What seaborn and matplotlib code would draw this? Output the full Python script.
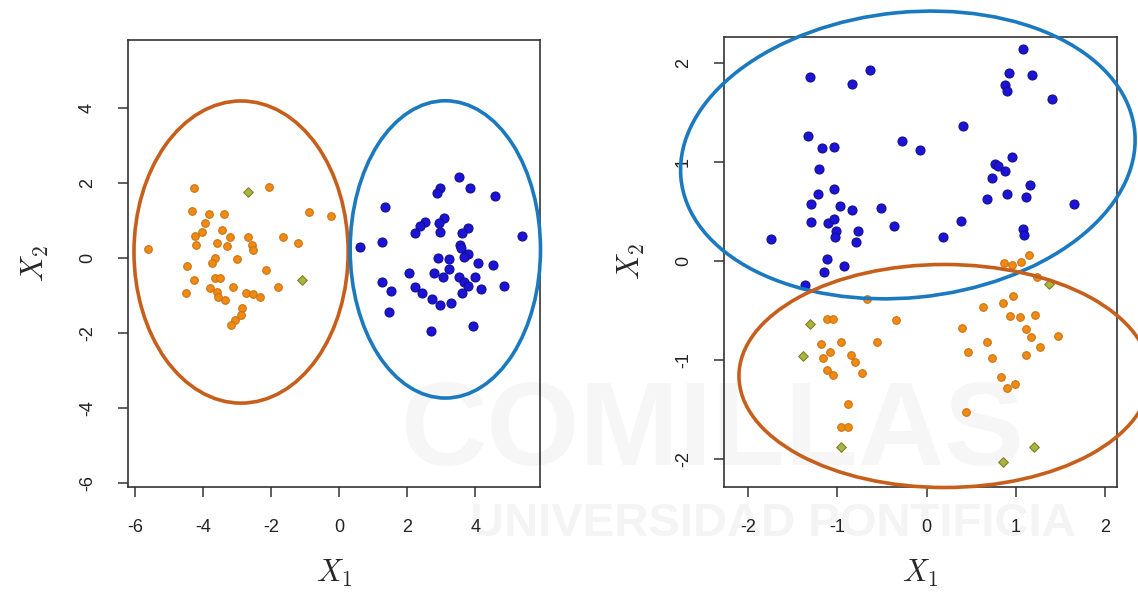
import seaborn as sns
import matplotlib.pyplot as plt
import pandas as pd
from matplotlib.patches import Ellipse

# left panel: two well separated clusters
left_orange_x = [-4.26, -2.06, -4.33, -3.81, -3.37, -0.87, -0.24, -3.94, -4.04, -3.43,
                 -4.24, -3.21, -2.67, -1.64, -4.21, -3.60, -3.30, -2.57, -1.20, -5.61,
                 -2.54, -3.65, -2.99, -3.74, -4.46, -2.16, -4.26, -3.65, -3.50, -4.50,
                 -3.79, -3.60, -3.13, -1.79, -2.74, -2.52, -2.32, -3.55, -3.35, -2.86,
                 -2.89, -3.06, -3.19]
left_orange_y = [1.86, 1.90, 1.26, 1.17, 1.17, 1.24, 1.12, 0.94, 0.70, 0.75,
                 0.59, 0.57, 0.55, 0.57, 0.35, 0.39, 0.32, 0.35, 0.39, 0.23,
                 0.21, 0.00, -0.02, -0.14, -0.21, -0.32, -0.59, -0.54, -0.54, -0.92,
                 -0.81, -0.90, -0.76, -0.76, -0.92, -0.96, -1.05, -1.03, -1.12, -1.34,
                 -1.52, -1.64, -1.79]
left_green_x = [-2.69, -1.10]
left_green_y = [1.77, -0.59]
left_blue_x = [3.51, 2.97, 2.87, 3.85, 4.59, 1.35, 3.09, 2.92, 2.53, 2.38,
               2.24, 2.95, 3.80, 3.61, 5.37, 1.25, 0.60, 3.56, 3.58, 3.80,
               3.66, 2.89, 3.24, 4.08, 4.51, 3.24, 2.06, 2.80, 3.05, 3.51,
               3.98, 3.66, 3.80, 1.25, 4.83, 4.18, 2.24, 2.43, 1.53, 3.61,
               2.73, 2.95, 3.29, 1.48, 2.71, 3.93]
left_blue_y = [2.15, 1.86, 1.72, 1.86, 1.64, 1.35, 1.06, 0.94, 0.97, 0.85,
               0.66, 0.70, 0.79, 0.66, 0.60, 0.44, 0.29, 0.35, 0.26, 0.11,
               0.02, -0.01, -0.03, -0.14, -0.19, -0.30, -0.41, -0.41, -0.50, -0.50,
               -0.50, -0.63, -0.75, -0.63, -0.74, -0.82, -0.78, -0.92, -0.88, -0.92,
               -1.10, -1.24, -1.21, -1.44, -1.95, -1.81]

# right panel: overlapping clusters
right_blue_x = [1.08, -1.31, -0.63, -0.83, 0.92, 1.18, 0.88, 0.90, 1.40, 0.41,
                -1.33, -1.17, -1.04, -0.28, -0.07, 0.95, 0.77, 0.80, 0.88, -1.20,
                0.73, -1.04, 1.16, -1.22, 0.90, 1.11, 0.68, -1.29, -0.97, -0.83,
                -0.51, 1.65, -1.29, -1.10, -1.04, -1.01, -1.03, -0.77, -0.79, -0.36,
                0.38, 0.18, -1.74, 1.08, 1.09, -1.11, -0.92, -1.15, -1.36]
right_blue_y = [2.14, 1.86, 1.93, 1.79, 1.90, 1.88, 1.78, 1.72, 1.63, 1.36,
                1.26, 1.14, 1.15, 1.21, 1.12, 1.05, 0.98, 0.96, 0.91, 0.93,
                0.84, 0.73, 0.77, 0.68, 0.68, 0.65, 0.63, 0.58, 0.56, 0.51,
                0.53, 0.58, 0.39, 0.38, 0.42, 0.30, 0.24, 0.30, 0.19, 0.35,
                0.40, 0.24, 0.22, 0.32, 0.26, 0.02, -0.05, -0.11, -0.24]
right_orange_x = [1.15, 0.87, 0.96, 1.06, 1.23, -0.67, 0.97, 0.85, 0.63, 0.93,
                  1.05, 1.21, -1.12, -1.05, -0.34, 0.40, 1.11, 1.17, 1.47, -1.18,
                  -0.96, -0.56, 0.68, 1.27, -1.16, -1.08, -0.85, -0.80, 0.46, 0.73,
                  1.11, -1.12, -1.05, -0.72, 0.83, 0.90, 0.99, -0.88, 0.44, -0.96,
                  -0.88]
right_orange_y = [0.06, -0.02, -0.04, -0.01, -0.16, -0.38, -0.35, -0.42, -0.46, -0.55,
                  -0.56, -0.54, -0.58, -0.59, -0.60, -0.68, -0.69, -0.77, -0.76, -0.84,
                  -0.82, -0.82, -0.82, -0.87, -0.98, -0.92, -0.95, -1.02, -0.92, -0.98,
                  -0.95, -1.10, -1.15, -1.13, -1.17, -1.28, -1.24, -1.44, -1.52, -1.67,
                  -1.67]
right_green_x = [1.37, -1.31, -1.38, -0.96, 1.20, 0.85]
right_green_y = [-0.23, -0.64, -0.96, -1.88, -1.88, -2.03]

left_ticks_x = [-6, -4, -2, 0, 2, 4]
left_ticks_y = [-6, -4, -2, 0, 2, 4]
right_ticks = [-2, -1, 0, 1, 2]


def make_df(groups):
    frames = []
    for name, xs, ys in groups:
        frames.append(pd.DataFrame({'x1': xs, 'x2': ys, 'grupo': name}))
    return pd.concat(frames, ignore_index=True)


left = make_df([('orange', left_orange_x, left_orange_y),
                ('green', left_green_x, left_green_y),
                ('blue', left_blue_x, left_blue_y)])
right = make_df([('blue', right_blue_x, right_blue_y),
                 ('orange', right_orange_x, right_orange_y),
                 ('green', right_green_x, right_green_y)])

palette = {'orange': '#f28a10', 'green': '#a4b83a', 'blue': '#1c12d8'}
edges = {'orange': '#c87418', 'green': '#8a7a30', 'blue': '#10108a'}
sizes = {'orange': 30, 'green': 24, 'blue': 42}

sns.set_style('white')
plt.rcParams['mathtext.fontset'] = 'cm'
plt.rcParams['axes.unicode_minus'] = False
plt.rcParams['font.family'] = ['Liberation Sans Narrow', 'Liberation Sans', 'DejaVu Sans']

fig = plt.figure(figsize=(11.38, 5.95), dpi=100)
ax1 = fig.add_axes([0.1125, 0.1815, 0.362, 0.7513])
ax2 = fig.add_axes([0.636, 0.1815, 0.3455, 0.7563])

# faint watermark behind the (transparent) axes
fig.text(0.352, 0.269, 'COMILLAS', fontsize=86, fontweight='bold', color='#f6f6f6',
         family=['Liberation Sans', 'DejaVu Sans'], zorder=-5, ha='left', va='center')
fig.text(0.413, 0.12, 'UNIVERSIDAD PONTIFICIA', fontsize=34, fontweight='bold',
         family=['Liberation Sans', 'DejaVu Sans'], color='#f4f4f4', zorder=-5,
         ha='left', va='center')

for ax, df in [(ax1, left), (ax2, right)]:
    ax.set_facecolor('none')
    for g in ['orange', 'green', 'blue']:
        sub = df[df.grupo == g]
        sns.scatterplot(data=sub, x='x1', y='x2', ax=ax, color=palette[g],
                        edgecolor=edges[g], linewidth=0.8, s=sizes[g],
                        marker='D' if g == 'green' else 'o', legend=False, zorder=3)
    for side in ax.spines.values():
        side.set_color('#333333')
        side.set_linewidth(1.2)
    ax.tick_params(axis='both', direction='out', length=7, width=1.1, color='#333333',
                   labelsize=13, bottom=True, left=True, pad=16, labelcolor='#222222')
    ax.set_xlabel('$X_1$', fontsize=22, labelpad=16)
    ax.set_ylabel('$X_2$', fontsize=22, labelpad=20)

ax1.set_xlim(-6.2, 5.9)
ax1.set_ylim(-6.1, 5.81)
ax1.set_xticks(left_ticks_x)
ax1.set_yticks(left_ticks_y)
ax2.set_xlim(-2.27, 2.13)
ax2.set_ylim(-2.28, 2.26)
ax2.set_xticks(right_ticks)
ax2.set_yticks(right_ticks)
for ax in (ax1, ax2):
    for lab in ax.get_yticklabels():
        lab.set_rotation(90)
        lab.set_va('center')

# hand drawn cluster outlines
orange_line = '#c65f1c'
blue_line = '#1b79c0'
ax1.add_patch(Ellipse((-2.88, 0.16), 6.29, 8.05, fill=False, lw=2.6,
                      ec=orange_line, clip_on=False, zorder=4))
ax1.add_patch(Ellipse((3.12, 0.23), 5.59, 7.92, fill=False, lw=2.6,
                      ec=blue_line, clip_on=False, zorder=4))
ax2.add_patch(Ellipse((-0.21, 1.07), 5.1, 2.88, angle=5, fill=False, lw=2.6,
                      ec=blue_line, clip_on=False, zorder=4))
ax2.add_patch(Ellipse((0.2, -1.16), 4.6, 2.25, fill=False, lw=2.6,
                      ec=orange_line, clip_on=False, zorder=4))

fig.savefig('out.png', dpi=100)
